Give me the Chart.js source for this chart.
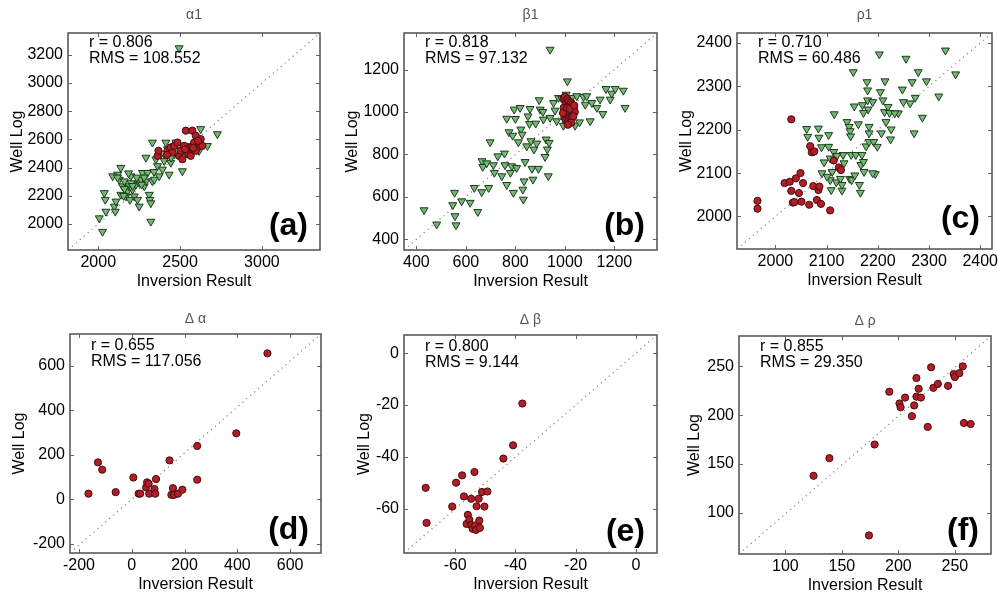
<!DOCTYPE html>
<html>
<head>
<meta charset="utf-8">
<script src="https://cdn.jsdelivr.net/npm/chart.js@4.4.0/dist/chart.umd.min.js"></script>
<style>
    body { margin: 0; background: #fff; width: 998px; height: 596px; overflow: hidden; position: relative; }
    canvas { position: absolute; }
</style>
</head>
<body>
<script>
// ---- data: [inversion result, well log] ----
const alpha1Green = [[2006,2041],[2026,1945],[2037,2220],[2043,2172],[2047,2088],[2098,2124],[2104,2088],[2108,2160],[2118,2351],[2128,2315],[2138,2208],[2148,2268],[2159,2303],[2169,2196],[2179,2232],[2189,2268],[2193,2172],[2199,2339],[2209,2244],[2220,2196],[2230,2280],[2240,2172],[2250,2124],[2250,2292],[2260,2315],[2270,2363],[2281,2268],[2291,2303],[2291,2471],[2301,2363],[2311,2208],[2315,2172],[2321,2148],[2321,2017],[2331,2578],[2331,2303],[2342,2315],[2352,2459],[2362,2411],[2372,2339],[2382,2495],[2392,2387],[2403,2447],[2413,2578],[2423,2531],[2433,2351],[2443,2435],[2453,2519],[2464,2495],[2474,2578],[2494,2543],[2514,2375],[2525,2519],[2555,2554],[2565,2519],[2596,2578],[2616,2519],[2626,2674],[2667,2554],[2728,2638],[2088,2339],[2138,2399],[2118,2330],[2160,2250],[2200,2290],[2235,2330],[2265,2280],[2185,2360],[2155,2200],[2210,2270],[2280,2330],[2340,2370],[2400,2500],[2445,2470],[2480,2520],[2540,2500],[2590,2560],[2494,3248]];
const alpha1Red = [[2362,2483],[2368,2519],[2423,2519],[2443,2543],[2453,2507],[2464,2554],[2484,2578],[2494,2483],[2504,2519],[2525,2554],[2535,2662],[2545,2519],[2555,2495],[2565,2543],[2575,2662],[2586,2578],[2596,2626],[2606,2543],[2616,2578],[2626,2602],[2636,2554],[2565,2483],[2514,2459],[2596,2519],[2420,2490],[2530,2530],[2580,2540],[2610,2590]];

const beta1Green = [[431,538],[482,471],[554,620],[547,562],[556,510],[560,467],[583,580],[617,573],[634,643],[648,530],[665,769],[668,742],[664,623],[684,759],[692,643],[698,858],[711,750],[715,714],[729,792],[745,698],[756,805],[758,750],[765,657],[765,969],[774,905],[780,714],[785,745],[792,620],[789,889],[795,1012],[800,968],[805,737],[812,858],[819,1020],[822,918],[827,894],[830,635],[832,588],[835,674],[839,765],[846,839],[851,980],[857,944],[859,1015],[863,863],[867,733],[871,682],[875,824],[882,946],[886,852],[893,733],[896,1056],[900,1012],[911,1001],[913,965],[920,789],[924,871],[929,824],[933,698],[936,855],[940,973],[940,1294],[954,1043],[960,1007],[967,957],[974,1067],[987,1063],[994,936],[1005,1082],[1010,1145],[1028,1067],[1041,936],[1048,1075],[1059,952],[1075,1071],[1082,1035],[1088,1075],[1102,957],[1109,1043],[1129,1020],[1142,1059],[1153,991],[1166,1109],[1183,1059],[1189,1087],[1203,1109],[1236,1101],[1243,1020]];
const beta1Red = [[995,1065],[1000,1072],[1005,1040],[1010,1060],[1015,1050],[1020,1030],[1025,1045],[1030,1035],[995,1020],[1000,1000],[1005,985],[1012,1010],[1018,995],[1024,1005],[1030,990],[1036,1015],[1040,1000],[998,975],[1004,960],[1010,950],[1016,970],[1022,965],[1028,975],[1034,980],[992,995],[1008,1020],[1020,1015],[1026,950],[1012,940],[1038,1030]];

const rho1Green = [[2061,2202],[2063,2184],[2084,2203],[2085,2182],[2104,2188],[2115,2236],[2104,2161],[2107,2134],[2095,2125],[2114,2149],[2111,2103],[2107,2084],[2109,2061],[2119,2079],[2127,2087],[2130,2060],[2130,2073],[2132,2142],[2134,2123],[2140,2218],[2144,2207],[2146,2197],[2147,2185],[2148,2142],[2145,2087],[2149,2084],[2152,2333],[2154,2254],[2157,2142],[2162,2213],[2167,2119],[2166,2055],[2169,2142],[2172,2126],[2173,2103],[2177,2162],[2179,2310],[2180,2291],[2180,2268],[2181,2247],[2183,2207],[2183,2192],[2183,2172],[2170,2257],[2172,2239],[2190,2264],[2192,2172],[2195,2098],[2199,2161],[2203,2374],[2205,2287],[2207,2192],[2210,2268],[2213,2241],[2214,2312],[2216,2218],[2220,2253],[2223,2239],[2225,2178],[2226,2201],[2240,2238],[2248,2293],[2250,2264],[2255,2364],[2263,2261],[2267,2310],[2271,2192],[2273,2274],[2279,2333],[2287,2228],[2295,2312],[2319,2277],[2332,2383],[2352,2328],[2233,2238],[2091,2100],[2101,2092],[2164,2073],[2090,2160],[2120,2140],[2075,2150],[2155,2095],[2190,2100]];
const rho1Red = [[1965,2036],[1965,2018],[2018,2077],[2028,2080],[2031,2059],[2031,2224],[2034,2032],[2037,2033],[2040,2088],[2046,2054],[2049,2100],[2051,2034],[2054,2077],[2066,2027],[2068,2162],[2071,2148],[2074,2070],[2081,2038],[2084,2061],[2089,2029],[2107,2014],[2114,2129],[2124,2113],[2128,2107],[2086,2069],[2076,2150]];

const dAlphaRed = [[-164,25],[-128,166],[-112,133],[-61,32],[6,98],[26,25],[32,25],[54,53],[58,76],[64,70],[66,25],[86,46],[89,25],[92,91],[143,175],[150,20],[156,50],[160,20],[175,25],[192,43],[248,240],[248,88],[396,297],[514,657]];
const dBetaRed = [[-69.8,-51.9],[-69.5,-65.4],[-61.0,-59.1],[-59.7,-49.9],[-57.7,-47.1],[-57.1,-55.2],[-56.2,-65.8],[-55.8,-62.3],[-55.3,-64.2],[-54.7,-56.1],[-54.7,-66.2],[-54.2,-67.7],[-53.6,-45.8],[-53.4,-66.4],[-53.1,-68.1],[-52.9,-59.0],[-52.2,-56.1],[-52.0,-64.5],[-51.8,-67.3],[-51.1,-53.5],[-50.3,-59.1],[-49.3,-53.3],[-44.0,-40.6],[-40.8,-35.5],[-37.7,-19.4]];
const dRhoRed = [[125,138],[139,156],[174,77],[179,170],[192,224],[201,212],[202,208],[206,218],[212,199],[214,210],[216,219],[216,238],[218,227],[220,218],[226,188],[229,249],[231,228],[235,232],[244,230],[249,242],[250,239],[254,243],[257,250],[258,192],[264,191]];

// axis limits and ticks
const alpha1Lim = [1815, 3355];
const alpha1XTicks = [2000, 2500, 3000];
const alpha1YTicks = [2000, 2200, 2400, 2600, 2800, 3000, 3200];
const beta1Lim = [350, 1372];
const beta1Ticks = [400, 600, 800, 1000, 1200];
const rho1Lim = [1925, 2423];
const rho1Ticks = [2000, 2100, 2200, 2300, 2400];
const dAlphaXLim = [-234, 717];
const dAlphaYLim = [-242, 744];
const dAlphaTicks = [-200, 0, 200, 400, 600];
const dBetaLim = [-77, 7];
const dBetaTicks = [-60, -40, -20, 0];
const dRhoXLim = [59, 282];
const dRhoYLim = [58, 281];
const dRhoTicks = [100, 150, 200, 250];

const titles = ["α1", "β1", "ρ1", "Δ α", "Δ β", "Δ ρ"];
const corrR = ["0.806", "0.818", "0.710", "0.655", "0.800", "0.855"];
const rmsVals = ["108.552", "97.132", "60.486", "117.056", "9.144", "29.350"];
const letters = ["(a)", "(b)", "(c)", "(d)", "(e)", "(f)"];

const FONT = '"Liberation Sans", Arial, sans-serif';

// plot boxes [left, top, right, bottom] in page pixels
const panels = [
    { box: [68, 33, 320, 250], green: alpha1Green, red: alpha1Red, xLim: alpha1Lim, yLim: alpha1Lim, xTicks: alpha1XTicks, yTicks: alpha1YTicks, yGap: 50, titleDy: 18, textDy: 10, letterDy: 24 },
    { box: [404, 33, 657, 250], green: beta1Green, red: beta1Red, xLim: beta1Lim, yLim: beta1Lim, xTicks: beta1Ticks, yTicks: beta1Ticks, yGap: 51, titleDy: 18, textDy: 10, letterDy: 24 },
    { box: [737, 33, 992, 249], green: rho1Green, red: rho1Red, xLim: rho1Lim, yLim: rho1Lim, xTicks: rho1Ticks, yTicks: rho1Ticks, yGap: 50, titleDy: 18, textDy: 10, letterDy: 30 },
    { box: [70, 334, 321, 553], green: [], red: dAlphaRed, xLim: dAlphaXLim, yLim: dAlphaYLim, xTicks: dAlphaTicks, yTicks: dAlphaTicks, yGap: 50, titleDy: 15, textDy: 12, letterDy: 23 },
    { box: [404, 335, 657, 553], green: [], red: dBetaRed, xLim: dBetaLim, yLim: dBetaLim, xTicks: dBetaTicks, yTicks: dBetaTicks, yGap: 39, titleDy: 15, textDy: 12, letterDy: 21 },
    { box: [739, 336, 991, 554], green: [], red: dRhoRed, xLim: dRhoXLim, yLim: dRhoYLim, xTicks: dRhoTicks, yTicks: dRhoTicks, yGap: 44, titleDy: 15, textDy: 11, letterDy: 23 },
];

const Y_W = 68, X_H = 44, TOP = 33, RIGHT = 12;

// box, inward ticks, title and the text inside each panel
const decor = {
    id: "decor",
    afterDraw(chart, args, o) {
        const { ctx, chartArea: a } = chart;
        const sx = chart.scales.x, sy = chart.scales.y;
        ctx.save();
        ctx.strokeStyle = "#666";
        ctx.lineWidth = 1;
        ctx.beginPath();
        sx.ticks.forEach((t) => {
            const px = Math.round(sx.getPixelForValue(t.value)) + 0.5;
            ctx.moveTo(px, a.bottom); ctx.lineTo(px, a.bottom - 4);
            ctx.moveTo(px, a.top); ctx.lineTo(px, a.top + 4);
        });
        sy.ticks.forEach((t) => {
            const py = Math.round(sy.getPixelForValue(t.value)) + 0.5;
            ctx.moveTo(a.left, py); ctx.lineTo(a.left + 4, py);
            ctx.moveTo(a.right, py); ctx.lineTo(a.right - 4, py);
        });
        ctx.stroke();
        ctx.strokeStyle = "#5a5a5a";
        ctx.lineWidth = 1.6;
        ctx.strokeRect(a.left, a.top, a.right - a.left, a.bottom - a.top);

        ctx.textBaseline = "middle";
        ctx.fillStyle = "#555";
        ctx.font = "14px " + FONT;
        ctx.textAlign = "center";
        ctx.fillText(o.title, (a.left + a.right) / 2, a.top - o.titleDy);

        ctx.fillStyle = "#000";
        ctx.font = "16px " + FONT;
        ctx.textAlign = "left";
        ctx.fillText("r = " + o.r, a.left + 21, a.top + o.textDy);
        ctx.fillText("RMS = " + o.rms, a.left + 21, a.top + o.textDy + 16);

        ctx.font = "bold 32px " + FONT;
        ctx.textAlign = "right";
        ctx.fillText(o.letter, a.right - 12, a.bottom - o.letterDy);
        ctx.restore();
    },
};

panels.forEach((p, i) => {
    const [L, T, R, B] = p.box;
    const canvas = document.createElement("canvas");
    const w = R - L + Y_W + RIGHT;
    const h = B - T + TOP + X_H;
    canvas.width = w;
    canvas.height = h;
    canvas.style.left = L - Y_W + "px";
    canvas.style.top = T - TOP + "px";
    canvas.style.width = w + "px";
    canvas.style.height = h + "px";
    document.body.appendChild(canvas);

    const toPts = (arr) => arr.map((d) => ({ x: d[0], y: d[1] }));

    new Chart(canvas, {
        type: "scatter",
        data: {
            datasets: [
                {
                    type: "line",
                    data: [{ x: p.xLim[0], y: p.yLim[0] }, { x: p.xLim[1], y: p.yLim[1] }],
                    showLine: true,
                    borderColor: "#808080",
                    borderWidth: 1.2,
                    borderDash: [1.2, 4],
                    pointRadius: 0,
                    order: 3,
                },
                {
                    data: toPts(p.green),
                    pointStyle: "triangle",
                    rotation: 180,
                    pointRadius: 4.6,
                    backgroundColor: "#74b874",
                    borderColor: "#1e3a1e",
                    borderWidth: 1,
                    order: 2,
                },
                {
                    data: toPts(p.red),
                    pointStyle: "circle",
                    pointRadius: 3.6,
                    backgroundColor: "#b01e28",
                    borderColor: "#4a0a0e",
                    borderWidth: 1,
                    order: 1,
                },
            ],
        },
        options: {
            responsive: false,
            animation: false,
            devicePixelRatio: 1,
            layout: { padding: { left: 0, top: TOP, right: RIGHT, bottom: 0 } },
            plugins: {
                legend: { display: false },
                tooltip: { enabled: false },
                decor: { title: titles[i], r: corrR[i], rms: rmsVals[i], letter: letters[i], titleDy: p.titleDy, textDy: p.textDy, letterDy: p.letterDy },
            },
            scales: {
                x: {
                    type: "linear",
                    min: p.xLim[0],
                    max: p.xLim[1],
                    afterBuildTicks: (s) => { s.ticks = p.xTicks.map((v) => ({ value: v })); },
                    afterFit: (s) => { s.height = X_H; },
                    grid: { display: false, drawTicks: false },
                    border: { display: false },
                    ticks: { color: "#000", padding: 3, maxRotation: 0, autoSkip: false, font: { size: 16, family: FONT }, callback: (v) => String(v) },
                    title: { display: true, text: "Inversion Result", color: "#000", font: { size: 16, family: FONT }, padding: { top: 0, bottom: 2.4 } },
                },
                y: {
                    type: "linear",
                    min: p.yLim[0],
                    max: p.yLim[1],
                    afterBuildTicks: (s) => { s.ticks = p.yTicks.map((v) => ({ value: v })); },
                    afterFit: (s) => { s.width = Y_W; },
                    grid: { display: false, drawTicks: false },
                    border: { display: false },
                    ticks: { color: "#000", padding: 5, autoSkip: false, font: { size: 16, family: FONT }, callback: (v) => String(v) },
                    title: { display: true, text: "Well Log", color: "#000", font: { size: 16, family: FONT }, padding: { top: 58.4 - p.yGap, bottom: 0 } },
                },
            },
        },
        plugins: [decor],
    });
});
</script>
</body>
</html>
